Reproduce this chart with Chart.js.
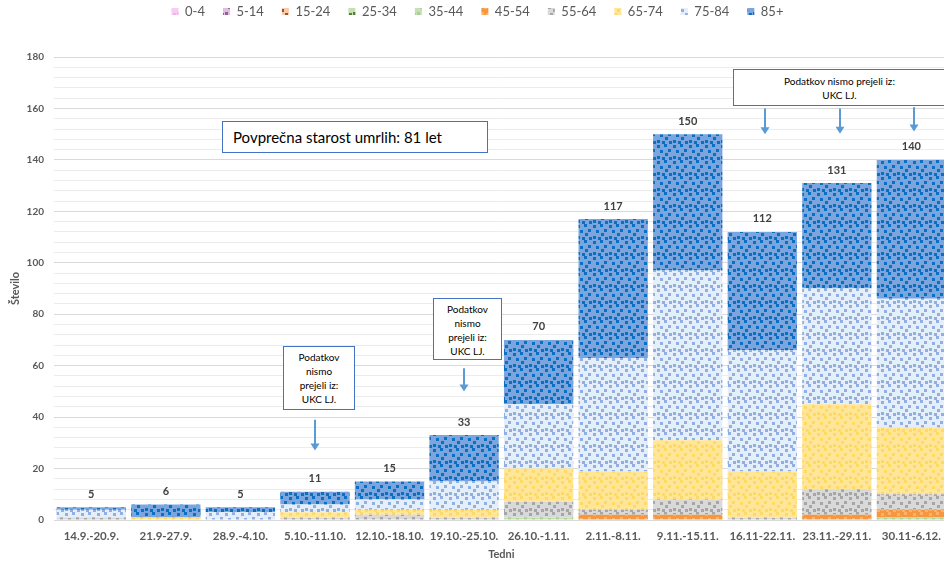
<!DOCTYPE html>
<html>
<head>
<meta charset="utf-8">
<script src="https://cdn.jsdelivr.net/npm/chart.js"></script>
<style>
  body { margin: 0; background: #fff; overflow: hidden; font-family: Lato, sans-serif; }
  #wrap { position: relative; width: 950px; height: 562px; }
  .note {
    position: absolute;
    background: #fff;
    border: 1px solid #4472c4;
    box-sizing: border-box;
    color: #000;
    font-size: 10px;
    line-height: 14px;
    text-align: center;
  }
</style>
</head>
<body>
<div id="wrap">
  <canvas id="chart"></canvas>
  <div class="note" style="left:222px;top:121px;width:266px;height:32px;font-size:15px;line-height:30px;text-align:left;padding-left:10px;">Povprečna starost umrlih: 81 let</div>
  <div class="note" style="left:283px;top:346px;width:72px;height:64px;padding-top:3px;">Podatkov<br>nismo<br>prejeli iz:<br>UKC LJ.</div>
  <div class="note" style="left:433px;top:298px;width:69px;height:62px;padding-top:3px;">Podatkov<br>nismo<br>prejeli iz:<br>UKC LJ.</div>
  <div class="note" style="left:733px;top:69px;width:230px;height:37px;padding-top:4px;padding-right:17px;">Podatkov nismo prejeli iz:<br>UKC LJ.</div>
</div>
<script>
// tedni (weeks)
const weeks = ['14.9.-20.9.', '21.9-27.9.', '28.9.-4.10.', '5.10.-11.10.', '12.10.-18.10.', '19.10.-25.10.',
  '26.10.-1.11.', '2.11.-8.11.', '9.11.-15.11.', '16.11-22.11.', '23.11.-29.11.', '30.11-6.12.'];

// umrli po starostnih skupinah
const age0_4   = [0, 0, 0, 0, 0, 0, 0, 0, 0, 0, 0, 0];
const age5_14  = [0, 0, 0, 0, 0, 0, 0, 0, 0, 0, 0, 0];
const age15_24 = [0, 0, 0, 0, 0, 0, 0, 0, 0, 0, 0, 0];
const age25_34 = [0, 0, 0, 0, 0, 0, 0, 0, 0, 0, 0, 0];
const age35_44 = [0, 0, 0, 0, 0, 0, 1, 0, 0, 0, 0, 1];
const age45_54 = [0, 0, 0, 0, 0, 0, 0, 2, 2, 0, 2, 3];
const age55_64 = [1, 0, 0, 1, 2, 1, 6, 2, 6, 1, 10, 6];
const age65_74 = [0, 1, 0, 2, 2, 3, 13, 15, 23, 18, 33, 26];
const age75_84 = [3, 0, 3, 3, 4, 11, 25, 44, 66, 47, 45, 50];
const age85    = [1, 5, 2, 5, 7, 18, 25, 54, 53, 46, 41, 54];

const groupLabels = ['0-4', '5-14', '15-24', '25-34', '35-44', '45-54', '55-64', '65-74', '75-84', '85+'];
const groupData = [age0_4, age5_14, age15_24, age25_34, age35_44, age45_54, age55_64, age65_74, age75_84, age85];

// arrows under "Podatkov nismo prejeli" notes: week index, from value, to value
const arrowWeeks = [3, 5, 9, 10, 11];
const arrowFrom  = [39, 59, 160, 160, 160.5];
const arrowTo    = [27, 50, 150, 150.2, 151];

// confetti fill like the office pattern fills
function confetti(bg, fg) {
  const c = document.createElement('canvas');
  c.width = 16; c.height = 16;
  const g = c.getContext('2d');
  g.fillStyle = bg;
  g.fillRect(0, 0, 16, 16);
  g.fillStyle = fg;
  [[1, 1], [8, 0], [12, 5], [4, 6], [9, 9], [1, 12], [13, 13], [6, 13]].forEach(([a, b]) => g.fillRect(a, b, 3, 3));
  return g.createPattern(c, 'repeat');
}

const fills = [
  confetti('#f7cdf3', '#efb2ea'),
  confetti('#dcc0dc', '#9b5a9b'),
  confetti('#f8cbad', '#a0522d'),
  confetti('#c5e0b4', '#548235'),
  confetti('#c5e0b4', '#a9d18e'),
  confetti('#f7963c', '#fbb46e'),
  confetti('#d9d9d9', '#a6a6a6'),
  confetti('#ffe699', '#ffd966'),
  confetti('#e6eef9', '#8fb0e2'),
  confetti('#7ba5dc', '#0a70c2')
];

const totalsPlugin = {
  id: 'totals',
  afterDatasetsDraw(chart) {
    const { ctx, scales: { x, y } } = chart;
    ctx.save();
    ctx.font = 'bold 11px Lato';
    ctx.fillStyle = '#404040';
    ctx.textAlign = 'center';
    ctx.textBaseline = 'middle';
    weeks.forEach((w, i) => {
      const t = groupData.reduce((s, d) => s + d[i], 0);
      ctx.fillText(String(t), x.getPixelForValue(i), y.getPixelForValue(t) - 13);
    });
    ctx.restore();
  }
};

const arrowsPlugin = {
  id: 'arrows',
  afterDraw(chart) {
    const { ctx, scales: { x, y } } = chart;
    ctx.save();
    ctx.strokeStyle = '#5b9bd5';
    ctx.fillStyle = '#5b9bd5';
    ctx.lineWidth = 2;
    arrowWeeks.forEach((wi, k) => {
      const px = Math.round(x.getPixelForValue(wi)) + (wi > 8 ? 3 : 0);
      const y1 = y.getPixelForValue(arrowFrom[k]);
      const y2 = y.getPixelForValue(arrowTo[k]);
      ctx.beginPath();
      ctx.moveTo(px, y1);
      ctx.lineTo(px, y2 - 6);
      ctx.stroke();
      ctx.beginPath();
      ctx.moveTo(px - 4.5, y2 - 7);
      ctx.lineTo(px + 4.5, y2 - 7);
      ctx.lineTo(px, y2);
      ctx.closePath();
      ctx.fill();
    });
    ctx.restore();
  }
};

const legendHeight = {
  id: 'legendHeight',
  afterInit(chart) {
    const fit = chart.legend.fit;
    chart.legend.fit = function () {
      fit.call(this);
      this.height = 70;
    };
  }
};

new Chart(document.getElementById('chart'), {
  type: 'bar',
  data: {
    labels: weeks,
    datasets: groupLabels.map((lab, i) => ({
      label: lab,
      data: groupData[i],
      backgroundColor: fills[i],
      borderWidth: 0,
      barPercentage: 0.93,
      categoryPercentage: 1
    }))
  },
  options: {
    responsive: true,
    maintainAspectRatio: false,
    animation: false,
    layout: { padding: { top: -13, right: 0, bottom: 0, left: 5 } },
    plugins: {
      legend: {
        position: 'top',
        labels: {
          boxWidth: 7,
          boxHeight: 7,
          padding: 18,
          color: '#595959',
          font: { family: 'Lato', size: 13 }
        }
      },
      tooltip: { enabled: false }
    },
    scales: {
      x: {
        stacked: true,
        grid: { display: false, drawTicks: false },
        border: { display: false },
        ticks: {
          color: '#595959',
          font: { family: 'Lato', size: 11.5, weight: 'bold' },
          padding: 9,
          maxRotation: 0,
          autoSkip: false
        },
        title: {
          display: true,
          text: 'Tedni',
          color: '#595959',
          font: { family: 'Lato', size: 11, weight: 'bold' },
          padding: { top: 4, bottom: 1 }
        },
        afterFit(s) { s.height = 42; }
      },
      y: {
        stacked: true,
        min: 0,
        max: 180,
        grid: {
          drawTicks: false,
          color: c => (c.tick && c.tick.value % 20 === 0) ? '#d9d9d9' : '#ececec'
        },
        border: { display: false },
        ticks: {
          stepSize: 4,
          autoSkip: false,
          padding: 10,
          color: '#595959',
          font: { family: 'Lato', size: 10, weight: 'bold' },
          callback: v => (v % 20 === 0 ? v : '')
        },
        title: {
          display: true,
          text: 'Število',
          color: '#595959',
          font: { family: 'Lato', size: 11, weight: 'bold' },
          padding: { top: 4, bottom: 4 }
        },
        afterFit(s) { s.width = 49; }
      }
    }
  },
  plugins: [totalsPlugin, arrowsPlugin, legendHeight]
});
</script>
</body>
</html>
